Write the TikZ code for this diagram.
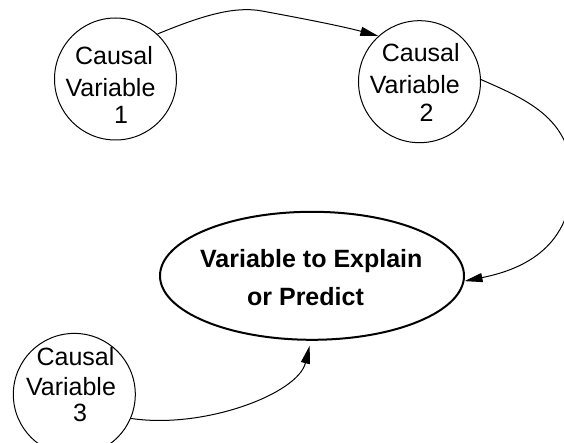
\documentclass[tikz,border=0pt]{standalone}
\usepackage{fontspec}
\setmainfont{Liberation Sans}
\usetikzlibrary{arrows.meta,shapes.geometric}
\begin{document}
\begin{tikzpicture}[x=1pt,y=-1pt,
  causal/.style={circle,draw,line width=1pt,minimum size=122pt,inner sep=0pt},
  target/.style={ellipse,draw,line width=2pt,minimum width=304pt,minimum height=128pt,inner sep=0pt},
  lbl/.style={anchor=base,inner sep=0pt,font=\fontsize{25}{30}\selectfont},
  blbl/.style={anchor=base,inner sep=0pt,font=\fontsize{25}{30}\selectfont\bfseries},
  conn/.style={line width=1pt,-{Triangle[length=18pt,width=9pt]}}]
\useasboundingbox (0,0) rectangle (564,443);
\clip (0,0) rectangle (564,443);
% nodes
\node[causal] (c1) at (115.5,79) {};
\node[lbl] (c1a) at (114,65) {Causal};
\node[lbl] (c1b) at (110.5,96.7) {Variable};
\node[lbl] (c1c) at (121,124) {1};

\node[causal] (c2) at (419.5,81.7) {};
\node[lbl] (c2a) at (420.8,61.7) {Causal};
\node[lbl] (c2b) at (414.8,93.3) {Variable};
\node[lbl] (c2c) at (426.5,121.7) {2};

\node[causal] (c3) at (74.3,394.4) {};
\node[lbl] (c3a) at (75.5,365) {Causal};
\node[lbl] (c3b) at (71,395) {Variable};
\node[lbl] (c3c) at (80,421.7) {3};

\node[target] (t) at (312,275.8) {};
\node[blbl] (ta) at (311.3,267.7) {Variable to Explain};
\node[blbl] (tb) at (305.5,305) {or Predict};

% waypoints
\coordinate (p1) at (262,11);
\coordinate (p2) at (572,185);

% connectors
\draw[conn] (c1.47) .. controls +(46,-19) and +(-27,-5) .. (p1)
  .. controls +(38,7) and +(-37,-10) .. (c2.132);
\draw[conn] (c2.2) .. controls +(48,21) and +(3,-65) .. (p2)
  .. controls +(-3,65) and +(55,-11) .. (t.-2);
\draw[conn,shorten >=5pt] (c3.-23) .. controls +(73,11) and +(-13,53) .. (t.-91.5);
\end{tikzpicture}
\end{document}
